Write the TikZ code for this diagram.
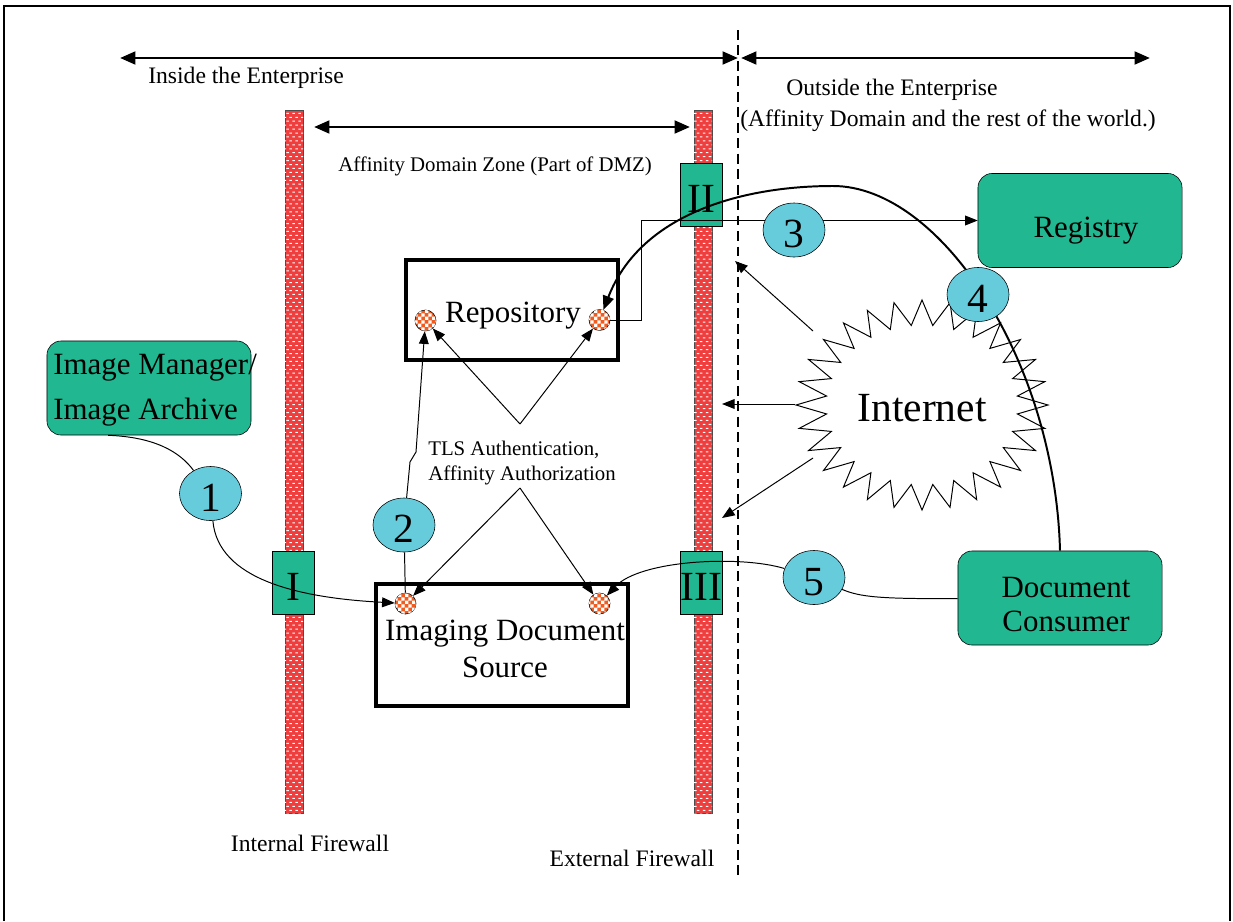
\documentclass[tikz,border=0pt]{standalone}
\usepackage{fontspec}
\setmainfont{Liberation Serif}
\usetikzlibrary{arrows.meta,patterns,shapes.geometric,calc}

\definecolor{gategreen}{RGB}{33,184,145}
\definecolor{stepcyan}{RGB}{102,204,220}
\definecolor{wallred}{RGB}{238,62,62}
\definecolor{portorange}{RGB}{240,92,32}

\pgfdeclarepatternformonly{wallbricks}{\pgfqpoint{-0.5pt}{-0.5pt}}{\pgfqpoint{5pt}{6pt}}{\pgfqpoint{4.2pt}{5.6pt}}{%
  \pgfpathrectangle{\pgfqpoint{0pt}{0pt}}{\pgfqpoint{1.8pt}{0.7pt}}%
  \pgfpathrectangle{\pgfqpoint{2.1pt}{2.8pt}}{\pgfqpoint{1.8pt}{0.7pt}}%
  \pgfusepath{fill}}
\pgfdeclarepatternformonly{portchecks}{\pgfqpoint{0pt}{0pt}}{\pgfqpoint{4.8pt}{4.8pt}}{\pgfqpoint{4.8pt}{4.8pt}}{%
  \pgfpathrectangle{\pgfqpoint{0pt}{0pt}}{\pgfqpoint{2.4pt}{2.4pt}}%
  \pgfpathrectangle{\pgfqpoint{2.4pt}{2.4pt}}{\pgfqpoint{2.4pt}{2.4pt}}%
  \pgfusepath{fill}}

\pgfdeclarelayer{front}
\pgfsetlayers{main,front}

\newcommand\smallfont{\fontsize{14.8}{17.8}\selectfont}
\newcommand\midfont{\fontsize{16.8}{20}\selectfont}
\newcommand\boxfont{\fontsize{22}{25}\selectfont}
\newcommand\bigfont{\fontsize{29.5}{34}\selectfont}

\begin{document}
\begin{tikzpicture}[x=0.025cm,y=-0.025cm,
    wall/.style={draw=black!70, fill=wallred, minimum width=0.45cm, minimum height=17.575cm,
      inner sep=0, postaction={pattern=wallbricks, pattern color=white}},
    gate/.style={draw, fill=gategreen, minimum width=1.05cm, minimum height=1.575cm, inner sep=0,
      font=\bigfont, text height=25pt, text depth=0pt},
    actor/.style={draw, fill=gategreen, rounded corners=10pt, minimum width=5.1cm, minimum height=2.35cm, inner sep=0},
    system/.style={draw, line width=2.6pt, inner sep=0},
    boxtext/.style={inner sep=0, align=center, font=\boxfont},
    port/.style={circle, draw, fill=portorange, minimum size=0.525cm, inner sep=0,
      postaction={pattern=portchecks, pattern color=white}},
    stepnum/.style={ellipse, draw, fill=stepcyan, minimum width=1.55cm, minimum height=1.35cm, inner sep=0,
      font=\bigfont, text height=25pt, text depth=0pt},
    link/.style={line width=0.7pt},
    arr/.style={link, -{Triangle[length=9pt,width=7pt]}},
    span/.style={line width=2.1pt, {Triangle[length=11pt,width=9pt]}-{Triangle[length=11pt,width=9pt]}}]
  \useasboundingbox (0,0) rectangle (1233,921);
  \draw[line width=0.8pt] (4,921) -- (4,6) -- (1230,6) -- (1230,921);

  % zones along the top
  \coordinate (inL) at (120,58);
  \coordinate (inR) at (738,58);
  \coordinate (outL) at (741,58);
  \coordinate (outR) at (1150,58);
  \coordinate (zoneL) at (314,127);
  \coordinate (zoneR) at (690,127);
  \coordinate (edgeT) at (738,30);
  \coordinate (edgeB) at (738,875);
  \draw[span] (inL) -- (inR);
  \draw[span] (outL) -- (outR);
  \draw[span] (zoneL) -- (zoneR);
  \draw[line width=0.9pt, dash pattern=on 7pt off 4pt] (edgeT) -- (edgeB);

  \node[anchor=west, font=\midfont, inner sep=0] (inside) at (148,78) {Inside the Enterprise};
  \node[anchor=west, font=\midfont, inner sep=0] (outside) at (786,89.5) {Outside the Enterprise};
  \node[anchor=west, font=\midfont, inner sep=0] (affdom) at (740,120.5) {(Affinity Domain and the rest of the world.)};
  \node[font=\smallfont, inner sep=0] (zone) at (495,166) {Affinity Domain Zone (Part of DMZ)};

  % firewalls and gates
  \node[wall] (fwint) at (294,461.5) {};
  \node[wall] (fwext) at (703,461.5) {};
  \node[font=\midfont, inner sep=0] (fwintlbl) at (310,843) {Internal Firewall};
  \node[font=\midfont, inner sep=0] (fwextlbl) at (632,858) {External Firewall};
  \node[gate] (gateI) at (293.5,582.5) {I};
  \node[gate] (gateII) at (701.5,194.5) {II};
  \node[gate] (gateIII) at (701.5,582.5) {III};

  % actors
  \node[system, minimum width=5.3cm, minimum height=2.5cm] (repo) at (512,310) {};
  \node[boxtext] (repotxt) at (513,316) {Repository};
  \node[system, minimum width=6.3cm, minimum height=3.05cm] (ids) at (502,645) {};
  \node[boxtext, font={\fontsize{22}{26.3}\selectfont}] (idstxt) at (505,649) {Imaging Document\\Source};
  \node[actor] (imgmgr) at (149,388) {};
  \node[boxtext, anchor=west, align=left, font={\fontsize{22}{31.6}\selectfont}] (imgmgrtxt) at (53,390) {Image Manager/\\Image Archive};
  \node[actor] (registry) at (1080,220.5) {};
  \node[boxtext] (registrytxt) at (1086,231) {Registry};
  \node[actor] (doccons) at (1060,598) {};
  \node[boxtext, font={\fontsize{22}{23.5}\selectfont}] (docconstxt) at (1066,604.5) {Document\\Consumer};

  \node[port] (repoL) at (425.5,320.5) {};
  \node[port] (repoR) at (599.5,320) {};
  \node[port] (idsL) at (405.5,603.5) {};
  \node[port] (idsR) at (599.5,603.5) {};

  % internet cloud
  \draw[fill=white, line width=0.7pt] (1048,405) \foreach \k in {1,...,28} {
      -- ({922+96*cos((\k-0.5)*360/28)},{405+80*sin((\k-0.5)*360/28)})
      -- ({922+126*cos(\k*360/28)},{405+105*sin(\k*360/28)}) } -- cycle;
  \node[font=\bigfont] (inet) at (922,408) {Internet};

  \coordinate (netA) at (813,331);
  \coordinate (netB) at (795,404);
  \coordinate (netC) at (813,458);
  \coordinate (dmzA) at (735,261);
  \coordinate (dmzB) at (722,404);
  \coordinate (dmzC) at (722,518);
  \draw[arr] (netA) -- (dmzA);
  \draw[arr] (netB) -- (dmzB);
  \draw[arr] (netC) -- (dmzC);

  % TLS checks
  \node[anchor=west, font=\smallfont, align=left, inner sep=0] (tls) at (428,463) {TLS Authentication,\\Affinity Authorization};
  \coordinate (tlsup) at (520,424);
  \coordinate (tlsdown) at (520,488);
  \draw[arr] (tlsup) -- (repoL);
  \draw[arr] (tlsup) -- (repoR);
  \draw[arr] (tlsdown) -- (idsL);
  \draw[arr] (tlsdown) -- (idsR);

  \begin{pgfonlayer}{front}
    \node[stepnum] (s1) at (210.5,493.5) {1};
    \node[stepnum] (s2) at (404,525) {2};
    \node[stepnum] (s3) at (794,230) {3};
    \node[stepnum] (s4) at (978,294.5) {4};
    \node[stepnum] (s5) at (814,577.5) {5};
  \end{pgfonlayer}

  % steps 1 to 5
  \draw[link] ($(imgmgr.south west)!0.3!(imgmgr.south east)$) .. controls (155,437) and (180,452) .. (s1);
  \draw[arr] (s1) .. controls (218,580) and (300,598) .. (idsL);
  \draw[link] (idsL) -- (s2);
  \draw[arr] (s2) -- (410,462) -- (416,452) -- (repoL);
  \draw[arr] (repoR.east) -- ++(31,0) |- (registry.west);
  \draw[line width=1.4pt, -{Triangle[length=10pt,width=8pt]}] (doccons.north)
    .. controls (1055,360) and (940,186) .. (833,186)
    .. controls (740,186) and (640,215) .. (repoR);
  \draw[link] (doccons) .. controls (880,599) and (860,597) .. (s5);
  \draw[arr] (s5) .. controls (740,555) and (640,560) .. (idsR);
\end{tikzpicture}
\end{document}
